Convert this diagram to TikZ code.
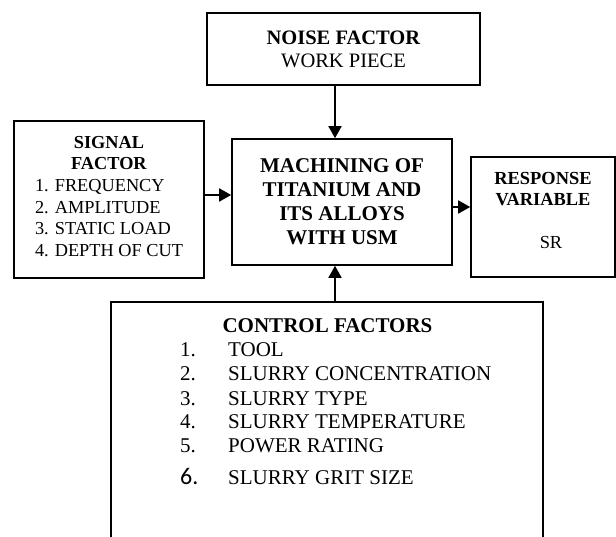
\documentclass[tikz,border=0pt]{standalone}
\usepackage{fontspec}
\setmainfont{Liberation Serif}
\newfontfamily\gritfont{Carlito}
\usetikzlibrary{arrows.meta}

\begin{document}
\begin{tikzpicture}[x=1pt, y=-1pt, >={Triangle[length=12pt, width=13pt]},
    box/.style={draw, line width=1.6pt, inner sep=0pt, align=center},
    flow/.style={->, line width=1.8pt}]
    \clip (0,0) rectangle (616,537);

    % Boxes
    \node[box, minimum width=273pt, minimum height=72pt,
          font=\fontsize{20.5}{23}\selectfont] (noise) at (343.5,49)
        {\textbf{NOISE FACTOR}\\WORK PIECE};
    \node[box, minimum width=220pt, minimum height=126pt,
          font=\fontsize{21}{24}\selectfont\bfseries] (main) at (342,202)
        {MACHINING OF\\TITANIUM AND\\ITS ALLOYS\\WITH USM};
    \node[box, minimum width=190pt, minimum height=157pt,
          font=\fontsize{18.3}{21.7}\selectfont] (signal) at (109,199.5)
        {\textbf{SIGNAL}\\\textbf{FACTOR}\\
         \begin{tabular}[t]{@{}l@{}}
           1. FREQUENCY\\
           2. AMPLITUDE\\
           3. STATIC LOAD\\
           4. DEPTH OF CUT
         \end{tabular}};
    \node[box, minimum width=144pt, minimum height=120pt] (resp) at (543,217) {};
    \node[anchor=north, align=center, inner sep=0pt,
          font=\fontsize{18.4}{21}\selectfont] (resplabel) at (543,172)
        {\textbf{RESPONSE}\\\textbf{VARIABLE}\\[22pt]\hspace*{16pt}SR};
    \node[box, minimum width=432pt, minimum height=300pt] (ctrl) at (327,452) {};

    % Control factor list
    \node[anchor=base, inner sep=0pt, font=\fontsize{21}{24}\selectfont\bfseries]
        (ctrlhead) at (327.5,333) {CONTROL FACTORS};
    \node[anchor=base west, inner sep=0pt, font=\fontsize{21}{24}\selectfont]
        (ctrllist) at (180,357)
        {\begin{tabular}[t]{@{}p{48pt}@{}l@{}}
           1. & TOOL\\
           2. & SLURRY CONCENTRATION\\
           3. & SLURRY TYPE\\
           4. & SLURRY TEMPERATURE\\
           5. & POWER RATING\\[8pt]
           {\gritfont\fontsize{24}{24}\selectfont 6.} & SLURRY GRIT SIZE
         \end{tabular}};

    % Arrows
    \draw[flow] ([xshift=-8.5pt]noise.south) -- ([xshift=-8.5pt]noise.south |- main.north);
    \draw[flow] ([xshift=8pt]ctrl.north) -- ([xshift=8pt]ctrl.north |- main.south);
    \draw[flow] ([yshift=4.5pt]signal.east) -- ([yshift=4.5pt]signal.east -| main.west);
    \draw[flow] ([yshift=-5pt]main.east) -- ([yshift=-5pt]main.east -| resp.west);
\end{tikzpicture}
\end{document}
